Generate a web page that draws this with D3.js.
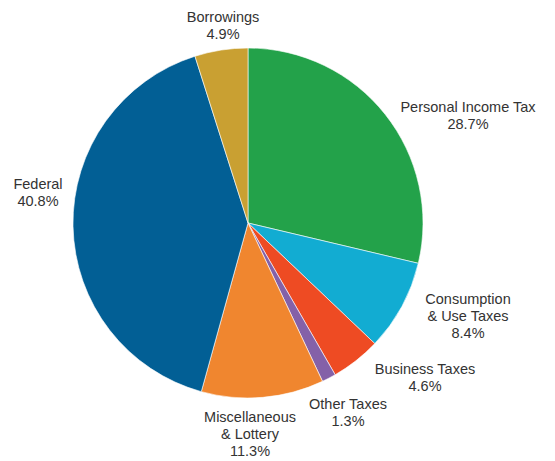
<!DOCTYPE html>
<html><head><meta charset="utf-8">
<script src="https://cdn.jsdelivr.net/npm/d3@7"></script>
<style>body{margin:0;background:#fff}svg{display:block}</style>
</head><body>
<script>
const categories = ["Personal Income Tax","Consumption & Use Taxes","Business Taxes","Other Taxes","Miscellaneous & Lottery","Federal","Borrowings"];
const values = [28.7, 8.4, 4.6, 1.3, 11.3, 40.8, 4.9];
const colors = ["#23a24a","#12acd2","#ee4b23","#8461a8","#f0862f","#025f95","#c9a032"];
const labelLines = [["Personal Income Tax"],["Consumption","& Use Taxes"],["Business Taxes"],["Other Taxes"],["Miscellaneous","& Lottery"],["Federal"],["Borrowings"]];
// label anchor (center of first line) relative to pie center
const labelAnchor = [[220,-116],[220,76],[177,146],[100,181],[2,194],[-210,-39],[-25,-206]];

const W=555,H=461,cx=248,cy=223,R=175;
const svg=d3.select("body").append("svg").attr("width",W).attr("height",H);
const g=svg.append("g").attr("transform",`translate(${cx},${cy})`);
const pie=d3.pie().sort(null).value(d=>d)(values);
const arc=d3.arc().innerRadius(0).outerRadius(R);
g.selectAll("path").data(pie).join("path")
  .attr("d",arc).attr("fill",(d,i)=>colors[i])
  .attr("stroke","#fff").attr("stroke-width",0.6);

const lab=g.selectAll("text.lbl").data(pie).join("text").attr("class","lbl")
  .attr("text-anchor","middle")
  .attr("font-family","Liberation Sans, Arial, sans-serif")
  .attr("font-size",14.5).attr("fill","#333")
  .attr("transform",(d,i)=>`translate(${labelAnchor[i][0]},${labelAnchor[i][1]})`);
lab.each(function(d,i){
  const t=d3.select(this);
  const lines=[...labelLines[i], d3.format(".1f")(values[i])+"%"];
  lines.forEach((s,k)=>t.append("tspan").attr("x",0).attr("y",k*16.8).attr("dy","0.35em").text(s));
});
</script>
</body></html>
